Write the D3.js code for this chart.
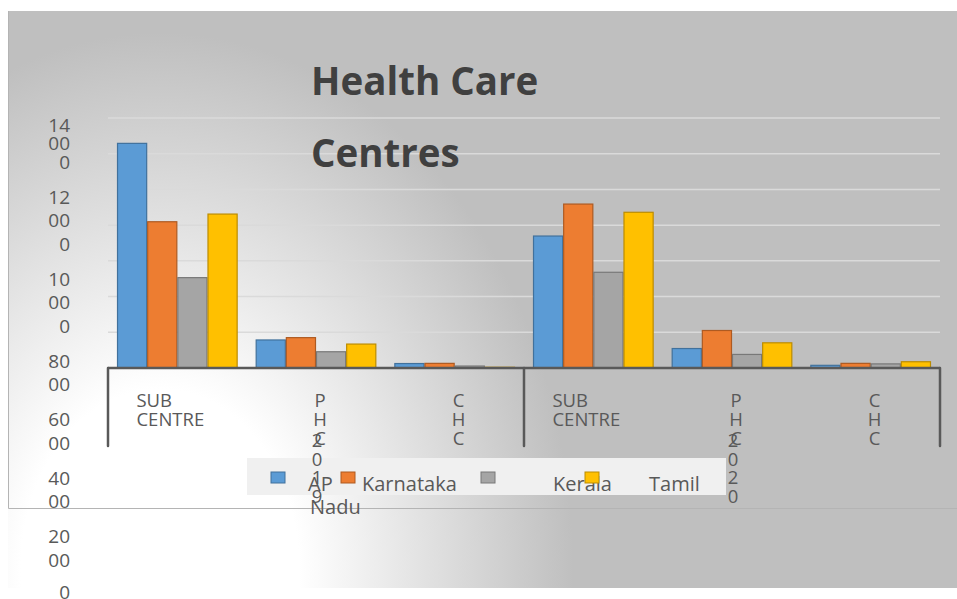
<!DOCTYPE html>
<html>
<head>
<meta charset="utf-8">
<script src="https://cdn.jsdelivr.net/npm/d3@7/dist/d3.min.js"></script>
<style>
  html, body { margin: 0; padding: 0; background: #ffffff; }
  svg { display: block; }
  text { font-family: "Open Sans", "Noto Sans", sans-serif; }
</style>
</head>
<body>
<svg id="chart" width="957" height="599"></svg>
<script>
// ---- data -------------------------------------------------------------
const title = "Health Care Centres";
const years = ["2019", "2020"];
const categories = ["SUB CENTRE", "PHC", "CHC"];
const seriesNames = ["AP", "Karnataka", "Kerala", "Tamil Nadu"];
// values per series, ordered year by year: [SUB CENTRE, PHC, CHC]
const apValues        = [12580, 1570, 250,  7390, 1090, 150];
const karnatakaValues = [ 8190, 1700, 260,  9180, 2100, 260];
const keralaValues    = [ 5060,  910, 110,  5360,  760, 230];
const tamilNaduValues = [ 8620, 1340,  40,  8720, 1410, 350];
const tickValues = [0, 2000, 4000, 6000, 8000, 10000, 12000, 14000];
const seriesColors = ["#5b9bd5", "#ed7d31", "#a5a5a5", "#ffc000"];
const seriesStrokes = ["#41719c", "#ae5a21", "#787878", "#bc8c00"];

const seriesValues = [apValues, karnatakaValues, keralaValues, tamilNaduValues];
const cells = years.flatMap(y => categories.map(c => ({ year: y, cat: c, key: y + "|" + c })));
const rows = cells.map((cell, i) => ({
  ...cell,
  values: seriesNames.map((s, j) => ({ series: s, idx: j, value: seriesValues[j][i] }))
}));

// ---- layout -----------------------------------------------------------
const svg = d3.select("#chart");
const plot = { left: 108, right: 940, top: 118, bottom: 368 };
const textColor = "#595959";

const defs = svg.append("defs");
const grad = defs.append("radialGradient")
  .attr("id", "bg")
  .attr("gradientUnits", "userSpaceOnUse")
  .attr("cx", 160).attr("cy", 570).attr("r", 435)
  .attr("gradientTransform", "translate(160,570) scale(1,1.3) translate(-160,-570)");
grad.append("stop").attr("offset", 0).attr("stop-color", "#ffffff");
grad.append("stop").attr("offset", 0.32).attr("stop-color", "#ffffff");
grad.append("stop").attr("offset", 0.95).attr("stop-color", "#bfbfbf");
grad.append("stop").attr("offset", 1).attr("stop-color", "#bfbfbf");

// chart area
svg.append("rect")
  .attr("x", 8).attr("y", 11).attr("width", 949).attr("height", 577)
  .attr("fill", "url(#bg)");
svg.append("path")
  .attr("d", "M8.5,11 V508.5 H957")
  .attr("fill", "none").attr("stroke", "#b4b4b4").attr("stroke-width", 1);

// ---- scales -----------------------------------------------------------
const y = d3.scaleLinear().domain([0, 14000]).range([plot.bottom, plot.top]);
const x0 = d3.scaleBand().domain(cells.map(d => d.key))
  .range([plot.left, plot.right]).paddingInner(0.13).paddingOuter(0.065);
const x1 = d3.scaleBand().domain(seriesNames).range([0, x0.bandwidth()]);
const yearBand = d3.scaleBand().domain(years).range([plot.left, plot.right]);

// gridlines
svg.append("g")
  .selectAll("line")
  .data(tickValues.filter(v => v > 0))
  .join("line")
  .attr("x1", plot.left).attr("x2", plot.right)
  .attr("y1", d => y(d)).attr("y2", d => y(d))
  .attr("stroke", "#dadada").attr("stroke-width", 1.5);

// y tick labels, wrapped into two-character pieces and stacked downwards
const yLabels = svg.append("g").attr("fill", textColor)
  .attr("font-size", 19).attr("text-anchor", "end");
const tickPieces = tickValues.slice().reverse().map(v => String(v).match(/.{1,2}/g));
let cursor = 125;
tickPieces.forEach((pieces, i) => {
  const step = i === 0 ? 18.5 : 23.5;
  pieces.forEach((p, k) => {
    yLabels.append("text")
      .attr("x", 70).attr("y", cursor + k * step + 6.5)
      .text(p);
  });
  const next = tickPieces[i + 1];
  cursor += (pieces.length - 1) * step + (next && next.length === 1 ? 32 : 35);
});

// bars
const groups = svg.append("g").selectAll("g")
  .data(rows).join("g")
  .attr("transform", d => `translate(${x0(d.key)},0)`);
groups.selectAll("rect")
  .data(d => d.values).join("rect")
  .attr("x", d => x1(d.series) + 0.5)
  .attr("width", x1.bandwidth() - 1)
  .attr("y", d => y(d.value))
  .attr("height", d => y(0) - y(d.value))
  .attr("fill", d => seriesColors[d.idx])
  .attr("stroke", d => seriesStrokes[d.idx])
  .attr("stroke-width", 1.2);

// category axis
const axisG = svg.append("g").attr("stroke", "#595959").attr("stroke-width", 2.5).attr("fill", "none");
axisG.append("line").attr("x1", plot.left).attr("x2", plot.right)
  .attr("y1", y(0)).attr("y2", y(0));
const dividers = [...years.map(yr => yearBand(yr)), plot.right];
axisG.selectAll("line.div").data(dividers).join("line").attr("class", "div")
  .attr("x1", d => d).attr("x2", d => d)
  .attr("y1", y(0)).attr("y2", 446)
  .attr("stroke-linecap", "round");

// category labels (words wrap onto lines; single words break into letters)
const catG = svg.append("g").attr("fill", textColor).attr("font-size", 18.5);
const lineStep = 19;
cells.forEach(cell => {
  const cx = x0(cell.key) + x0.bandwidth() / 2;
  const stacked = !cell.cat.includes(" ");
  const lines = stacked ? cell.cat.split("") : cell.cat.split(" ");
  const t = catG.append("text").attr("text-anchor", stacked ? "middle" : "start");
  lines.forEach((l, k) => {
    t.append("tspan").attr("x", 0).attr("y", 407 + k * lineStep).text(l);
  });
  if (stacked) {
    t.attr("transform", `translate(${cx + 4},0)`);
  } else {
    const w = t.node().getBBox().width;
    t.attr("transform", `translate(${cx - w / 2 - 7},0)`);
  }
});

// legend
const legend = svg.append("g");
legend.append("rect")
  .attr("x", 247).attr("y", 458).attr("width", 479).attr("height", 37)
  .attr("fill", "#f0f0f0");
const markerX = [271, 341, 481, 585];
const labelX = [308, 362, 553, 649];
seriesNames.forEach((s, i) => {
  legend.append("rect")
    .attr("x", markerX[i]).attr("y", 472).attr("width", 14).attr("height", 11)
    .attr("fill", seriesColors[i]).attr("stroke", seriesStrokes[i]).attr("stroke-width", 1);
  const words = s.split(" ");
  const lt = legend.append("text").attr("fill", textColor).attr("font-size", 20);
  lt.append("tspan").attr("x", labelX[i]).attr("y", 491).text(words[0]);
  if (words.length > 1) {
    lt.append("tspan").attr("x", 310).attr("y", 514).text(words.slice(1).join(" "));
  }
});

// year labels, stacked one character per line
const yearG = svg.append("g").attr("fill", textColor).attr("font-size", 18.5).attr("text-anchor", "middle");
years.forEach(yr => {
  const cx = yearBand(yr) + yearBand.bandwidth() / 2 + 1;
  yr.split("").forEach((ch, k) => {
    yearG.append("text").attr("x", cx).attr("y", 447 + k * 18.7).text(ch);
  });
});

// title
const titleWords = title.split(" ");
const tt = svg.append("text")
  .attr("fill", "#404040").attr("font-size", 38.5).attr("font-weight", 700);
tt.append("tspan").attr("x", 311).attr("y", 95).text(titleWords.slice(0, 2).join(" "));
tt.append("tspan").attr("x", 311).attr("y", 167).text(titleWords.slice(2).join(" "));
</script>
</body>
</html>
